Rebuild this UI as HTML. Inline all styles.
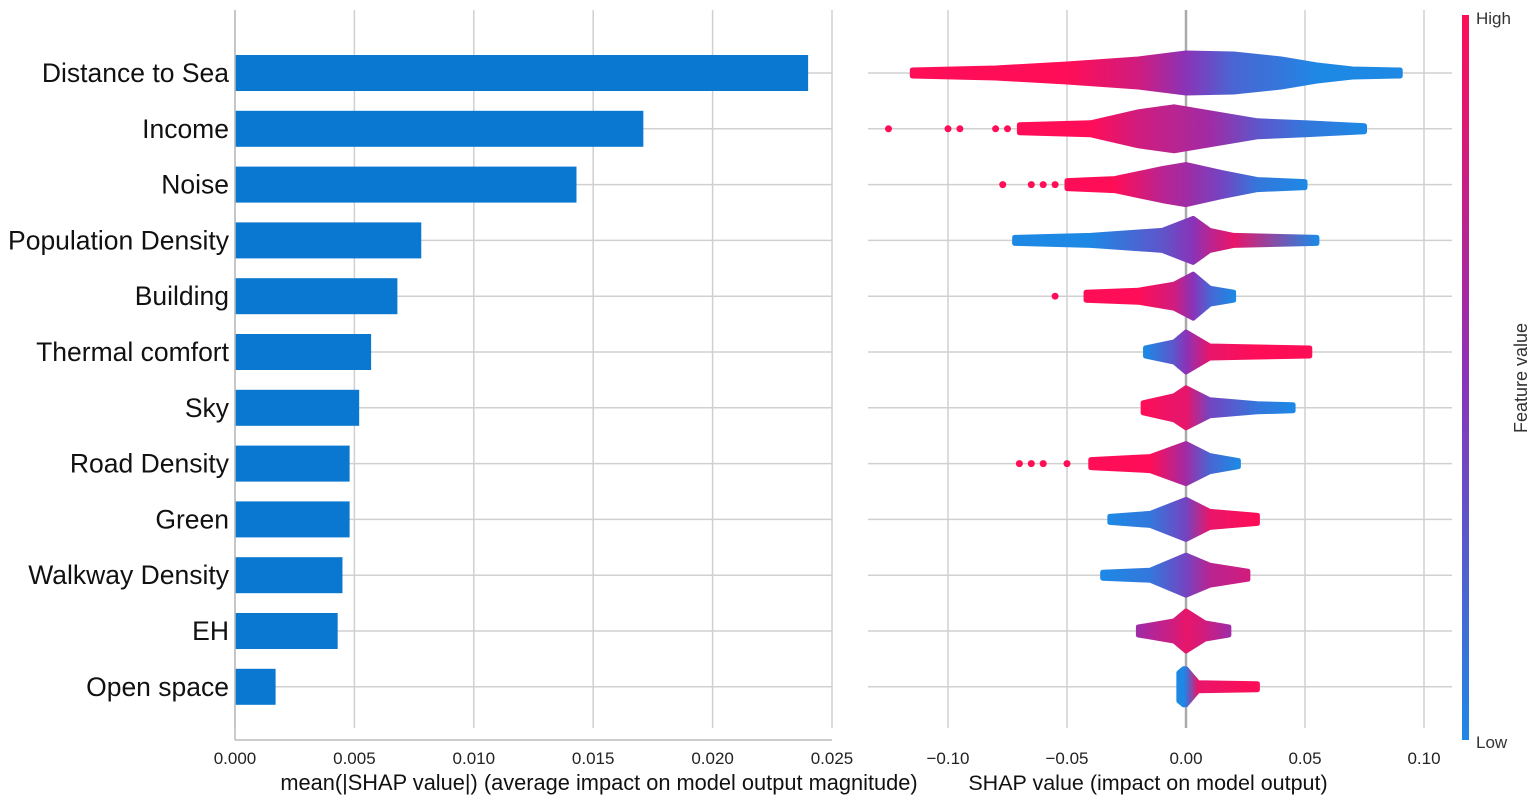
<!DOCTYPE html>
<html><head><meta charset="utf-8"><style>
body{margin:0;background:#fff;}
svg{display:block;font-family:"Liberation Sans",Arial,sans-serif;}
</style></head><body>
<svg id="chart" width="1535" height="804" viewBox="0 0 1535 804">
<defs>
<linearGradient id="cbar" x1="0" y1="0" x2="0" y2="1">
<stop offset="0" stop-color="#ff0d57"/><stop offset="0.5" stop-color="#8a33b8"/><stop offset="1" stop-color="#1e88e5"/>
</linearGradient>
</defs>
<g id="left"></g><g id="right"></g>
</svg>
<script>
const features=["Distance to Sea","Income","Noise","Population Density","Building","Thermal comfort","Sky","Road Density","Green","Walkway Density","EH","Open space"];
const meanAbs=[0.0240,0.0171,0.0143,0.0078,0.0068,0.0057,0.0052,0.0048,0.0048,0.0045,0.0043,0.0017];
const barTicks=[0,0.005,0.010,0.015,0.020,0.025];
const shapTicks=[-0.10,-0.05,0.00,0.05,0.10];
const profX=[
[-0.115,-0.08,-0.05,-0.02,0.0,0.02,0.04,0.055,0.07,0.09],
[-0.07,-0.04,-0.02,-0.005,0.01,0.03,0.05,0.075],
[-0.05,-0.03,-0.01,0.0,0.015,0.03,0.05],
[-0.072,-0.04,-0.01,0.003,0.01,0.02,0.055],
[-0.042,-0.02,-0.005,0.003,0.01,0.02],
[-0.017,-0.005,0.0,0.01,0.03,0.052],
[-0.018,-0.005,0.0,0.01,0.03,0.045],
[-0.04,-0.015,0.0,0.01,0.022],
[-0.032,-0.015,0.0,0.01,0.03],
[-0.035,-0.015,0.0,0.01,0.026],
[-0.02,-0.005,0.0,0.008,0.018],
[-0.003,-0.001,0.0,0.005,0.03]];
const profH=[
[3,5,9,14,20,19,14,8,4,3],
[4,6,17,22,16,8,6,3],
[4,6,16,20,12,5,3],
[3,5,10,22,10,5,3],
[4,6,12,22,8,4],
[4,10,20,6,5,4],
[5,12,20,8,4,3],
[4,7,20,8,3],
[3,6,20,8,4],
[3,5,20,10,4],
[4,10,20,8,4],
[14,18,18,4,3]];
const profC=[
[1,1,1,0.8,0.5,0.2,0.1,0,0,0],
[1,1,0.8,0.7,0.6,0.3,0.1,0],
[1,1,0.7,0.6,0.4,0.1,0],
[0,0,0.3,0.5,0.7,0.9,0],
[1,1,0.8,0.5,0.2,0],
[0,0.3,0.5,0.9,1,1],
[1,0.9,0.9,0.4,0.1,0],
[1,1,0.6,0.2,0],
[0,0.1,0.4,0.9,1],
[0,0.1,0.4,0.7,0.8],
[0.6,0.8,0.9,0.8,0.6],
[0,0,0.1,0.9,1]];
const outliers=[[],[-0.125,-0.1,-0.095,-0.08,-0.075],[-0.077,-0.065,-0.06,-0.055],[],[-0.055],[],[],[-0.07,-0.065,-0.06,-0.05],[],[],[],[]];
const outC=[[],[1,1,1,1,1],[1,1,1,1],[],[1],[],[],[1,1,1,1],[],[],[],[]];

const NS="http://www.w3.org/2000/svg";
function mk(p,t,a){const e=document.createElementNS(NS,t);for(const k in a)e.setAttribute(k,a[k]);p.appendChild(e);return e;}
function col(v){const b=[30,136,229],m=[138,51,184],r=[255,13,87];let c;if(v<0.5){const t=v/0.5;c=b.map((x,i)=>x+(m[i]-x)*t);}else{const t=(v-0.5)/0.5;c=m.map((x,i)=>x+(r[i]-x)*t);}return `rgb(${c.map(Math.round).join(',')})`;}
const rowY=i=>73+i*55.8;
const L=document.getElementById('left'),R=document.getElementById('right'),svg=document.getElementById('chart');
const xb=v=>235+v/0.025*597;
const xs=v=>1186+v/0.10*238;

barTicks.forEach((t,i)=>{
 const g=mk(L,'line',{x1:xb(t),x2:xb(t),y1:10,y2:728,stroke:'#d0d0d0','stroke-width':1.5});
 
 const tx=mk(L,'text',{x:xb(t),y:764,'text-anchor':'middle','font-size':17,fill:'#222'});tx.textContent=t.toFixed(3);
 
});
features.forEach((f,i)=>{
 const gl=mk(L,'line',{x1:235,x2:832,y1:rowY(i),y2:rowY(i),stroke:'#d0d0d0','stroke-width':1.5});
 
 const r=mk(L,'rect',{x:235,y:rowY(i)-18,width:xb(meanAbs[i])-235,height:36,fill:'#0a78d0'});
 
 const t=mk(L,'text',{x:229,y:rowY(i)+9,'text-anchor':'end','font-size':26.5,fill:'#111'});t.textContent=f;
 
});
let sp=mk(L,'line',{x1:235,x2:832,y1:740,y2:740,stroke:'#bbb','stroke-width':1.5});

sp=mk(L,'line',{x1:235,x2:235,y1:10,y2:740,stroke:'#bbb','stroke-width':1.5});

let xl=mk(L,'text',{x:599,y:790,'text-anchor':'middle','font-size':21.8,fill:'#111'});xl.textContent='mean(|SHAP value|) (average impact on model output magnitude)';


shapTicks.forEach(t=>{
 const g=mk(R,'line',{x1:xs(t),x2:xs(t),y1:10,y2:728,stroke:t===0?'#aaa':'#d0d0d0','stroke-width':t===0?2.5:1.5});
 
 const tx=mk(R,'text',{x:xs(t),y:764,'text-anchor':'middle','font-size':17,fill:'#222'});tx.textContent=(t<0?'\u2212':'')+Math.abs(t).toFixed(2);
 
});
features.forEach((f,i)=>{
 const y=rowY(i);
 const gl=mk(R,'line',{x1:868,x2:1452,y1:y,y2:y,stroke:'#d0d0d0','stroke-width':1.5});
 
 const px=profX[i],ph=profH[i],pc=profC[i];
 const gid='g'+i;
 const lg=mk(svg.querySelector('defs'),'linearGradient',{id:gid,gradientUnits:'userSpaceOnUse',x1:xs(px[0]),x2:xs(px[px.length-1]),y1:0,y2:0});
 const span=px[px.length-1]-px[0];
 px.forEach((v,k)=>mk(lg,'stop',{offset:(v-px[0])/span,'stop-color':col(pc[k])}));
 let d='M'+xs(px[0])+','+(y-ph[0]);
 for(let k=1;k<px.length;k++)d+=' L'+xs(px[k])+','+(y-ph[k]);
 for(let k=px.length-1;k>=0;k--)d+=' L'+xs(px[k])+','+(y+ph[k]);
 d+='Z';
 const p=mk(R,'path',{d:d,fill:'url(#'+gid+')','stroke':'url(#'+gid+')','stroke-width':5,'stroke-linejoin':'round'});
 
 outliers[i].forEach((v,k)=>{
  const c=mk(R,'circle',{cx:xs(v),cy:y,r:3.5,fill:col(outC[i][k])});
  
 });
});
xl=mk(R,'text',{x:1148,y:790,'text-anchor':'middle','font-size':21.5,fill:'#111'});xl.textContent='SHAP value (impact on model output)';

let cb=mk(R,'rect',{x:1462,y:15,width:7,height:725,fill:'url(#cbar)'});

let t1=mk(R,'text',{x:1476,y:24,'font-size':17,fill:'#333'});t1.textContent='High';

t1=mk(R,'text',{x:1476,y:748,'font-size':17,fill:'#333'});t1.textContent='Low';

t1=mk(R,'text',{x:1527,y:378,'font-size':18,fill:'#333','text-anchor':'middle',transform:'rotate(-90 1527 378)'});t1.textContent='Feature value';

</script>
</body></html>
